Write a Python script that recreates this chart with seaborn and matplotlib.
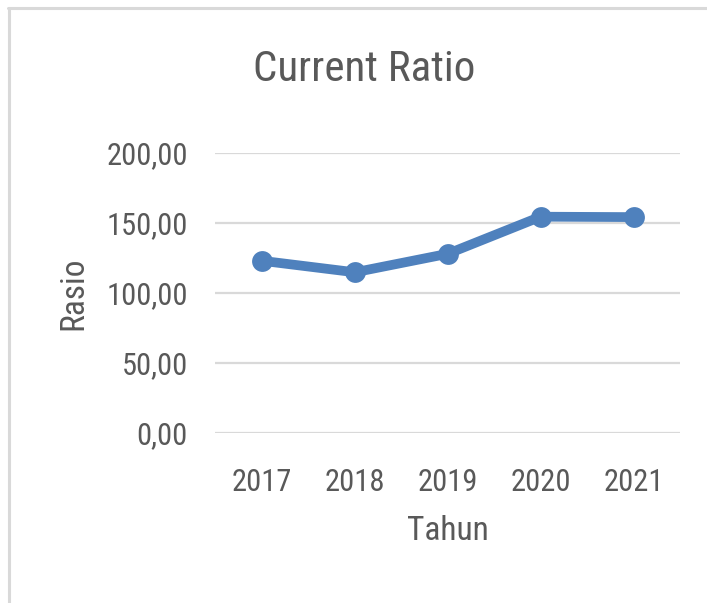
import matplotlib
matplotlib.use("Agg")
import matplotlib.pyplot as plt
from matplotlib import font_manager
from matplotlib.lines import Line2D
import seaborn as sns
import pandas as pd

# data
tahun = ["2017", "2018", "2019", "2020", "2021"]
rasio = [123.0, 114.8, 128.0, 154.5, 154.2]
yticks = [0, 50, 100, 150, 200]
ytick_labels = ["0,00", "50,00", "100,00", "150,00", "200,00"]

df = pd.DataFrame({"Tahun": tahun, "Rasio": rasio})

sns.set_theme(style="white")
names = {f.name for f in font_manager.fontManager.ttflist}
font = "Roboto"
for cand in ["Liberation Sans Narrow", "Roboto Condensed", "Open Sans Condensed", "Roboto"]:
    if cand in names:
        font = cand
        break
plt.rcParams["font.family"] = [font, "DejaVu Sans"]

grey = "#595959"
blue = "#4f81bd"

fig = plt.figure(figsize=(7.07, 6.03), dpi=100)
ax = fig.add_axes([0.3048, 0.2819, 0.657, 0.4644])

sns.lineplot(data=df, x="Tahun", y="Rasio", ax=ax, color=blue, linewidth=7,
             marker="o", markersize=15, markeredgewidth=0, sort=False)

ax.set_ylim(0, 200)
ax.set_xlim(-0.5, len(tahun) - 0.5)
ax.set_yticks(yticks)
ax.set_yticklabels(ytick_labels)
ax.yaxis.grid(True, color="#d9d9d9", linewidth=1.6)
ax.xaxis.grid(False)
for s in ax.spines.values():
    s.set_visible(False)
ax.tick_params(axis="both", length=0, labelsize=22, colors=grey)
ax.tick_params(axis="y", pad=20)
ax.tick_params(axis="x", pad=25)
ax.set_axisbelow(True)

ax.set_xlabel("Tahun", fontsize=24, color=grey, labelpad=13)
ax.set_ylabel("Rasio", fontsize=24, color=grey, labelpad=12)
fig.text(0.515, 0.865, "Current Ratio", fontsize=31, color=grey, ha="center", va="baseline")

# chart frame (partially visible in the screenshot)
fig.add_artist(Line2D([8 / 707, 1], [1 - 7.5 / 603] * 2, transform=fig.transFigure,
                      color="#d9d9d9", linewidth=2.2))
fig.add_artist(Line2D([8.5 / 707] * 2, [0, 1 - 7.5 / 603], transform=fig.transFigure,
                      color="#d9d9d9", linewidth=2.2))

fig.savefig("out.png", dpi=100, facecolor="white")
